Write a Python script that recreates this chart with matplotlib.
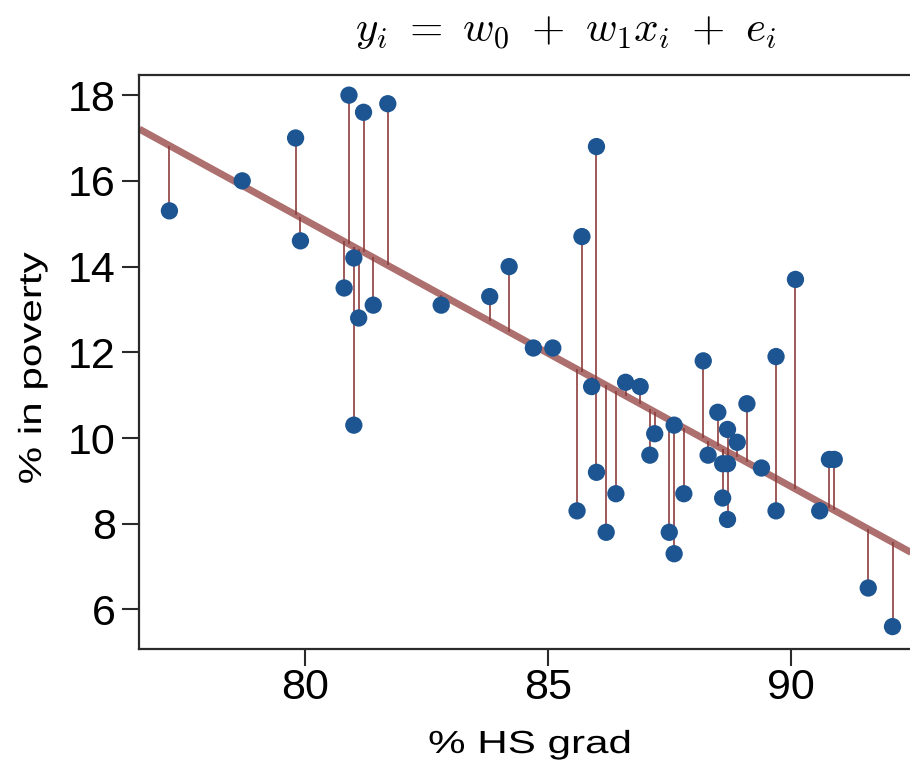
import numpy as np
import matplotlib
matplotlib.use("Agg")
import matplotlib.pyplot as plt
import matplotlib.patheffects as pe
from matplotlib.transforms import Affine2D

# -----------------------------
# data: % HS grad vs % in poverty (one point per state)
# -----------------------------
hs_grad = [79.9, 90.6, 83.8, 80.9, 81.1, 88.7, 87.5, 88.7, 86.0, 84.7,
           85.1, 88.5, 88.2, 85.9, 86.4, 89.7, 88.6, 82.8, 79.8, 86.6,
           87.6, 87.1, 87.6, 91.6, 81.2, 88.3, 90.1, 90.8, 85.6, 92.1,
           86.2, 81.7, 84.2, 81.4, 89.7, 87.2, 85.7, 86.9, 86.0, 81.0,
           80.8, 88.7, 81.0, 77.2, 89.4, 88.9, 87.8, 89.1, 78.7, 88.6,
           90.9]
poverty = [14.6, 8.3, 13.3, 18.0, 12.8, 9.4, 7.8, 8.1, 16.8, 12.1,
           12.1, 10.6, 11.8, 11.2, 8.7, 8.3, 9.4, 13.1, 17.0, 11.3,
           7.3, 9.6, 10.3, 6.5, 17.6, 9.6, 13.7, 9.5, 8.3, 5.6,
           7.8, 17.8, 14.0, 13.1, 11.9, 10.1, 14.7, 11.2, 9.2, 10.3,
           13.5, 10.2, 14.2, 15.3, 9.3, 9.9, 8.7, 10.8, 16.0, 8.6,
           9.5]

x = np.array(hs_grad)
y = np.array(poverty)

# least squares line y = w0 + w1 x
w1, w0 = np.polyfit(x, y, 1)


class Stretch(pe.AbstractPathEffect):
    # widen text along its own direction (labels in the original are wide)
    def __init__(self, sx):
        super().__init__()
        self.sx = sx

    def draw_path(self, renderer, gc, tpath, affine, rgbFace=None):
        ext = tpath.get_extents()
        c = ext.x0 + ext.width / 2
        t = Affine2D().scale(self.sx, 1).translate(c * (1 - self.sx), 0)
        renderer.draw_path(gc, tpath, t + affine, rgbFace)


plt.rcParams["font.family"] = ["Liberation Sans", "DejaVu Sans"]
plt.rcParams["mathtext.fontset"] = "cm"

W, H = 910, 771
fig = plt.figure(figsize=(W / 100, H / 100), dpi=100)

# axes box runs past the right edge (the original is cropped there)
left_px, right_px, top_px, bot_px = 139.3, 993, 75, 649.3
ax = fig.add_axes([left_px / W, 1 - bot_px / H,
                   (right_px - left_px) / W, (bot_px - top_px) / H])

xmin = 80 + (left_px - 305.3) / 48.53
xmax = 80 + (right_px - 305.3) / 48.53
ax.set_xlim(xmin, xmax)
ax.set_ylim(5.07, 18.47)

xl = np.array([xmin, xmax])
ax.plot(xl, w0 + w1 * xl, color="#a4605e", lw=5, alpha=0.9,
        solid_capstyle="butt", zorder=2)

yhat = w0 + w1 * x
ax.vlines(x, yhat, y, color="#8c3c3c", lw=1.4, alpha=0.85, zorder=3)
ax.scatter(x, y, s=155, color="#1c5591", edgecolors="none", zorder=4)

ax.set_xticks([80, 85, 90])
ax.set_yticks([6, 8, 10, 12, 14, 16, 18])
ax.tick_params(axis="both", length=12, width=1.5, color="#2a2a2a",
               labelsize=31, direction="out")
ax.tick_params(axis="x", pad=1.5)
ax.tick_params(axis="y", pad=5)

for s in ["left", "bottom", "top"]:
    ax.spines[s].set_linewidth(1.6)
    ax.spines[s].set_color("#2a2a2a")
ax.spines["right"].set_visible(False)

stretch = [Stretch(1.32)]
fig.text(530 / W, 1 - 745 / H, "% HS grad", ha="center", va="center",
         fontsize=23, path_effects=stretch)
fig.text(33 / W, 1 - 368 / H, "% in poverty", ha="center", va="center",
         rotation=90, fontsize=23, path_effects=stretch)

fig.text(566 / W, 1 - 31 / H, r"$y_i\ =\ w_0\ +\ w_1 x_i\ +\ e_i$",
         ha="center", va="center", fontsize=31)

fig.savefig("out.png", dpi=100)
